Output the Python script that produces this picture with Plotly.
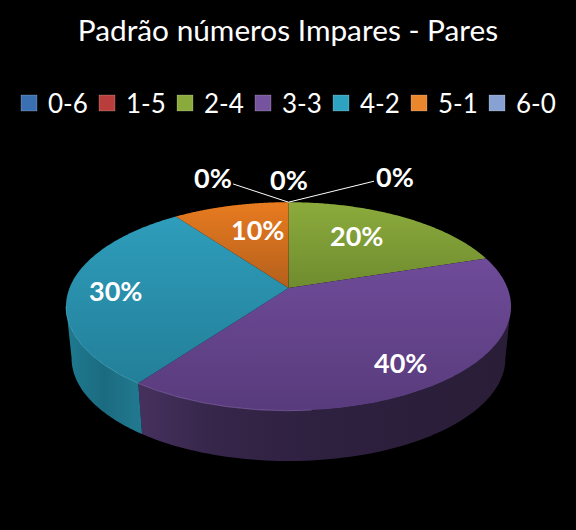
"""Padrão números Impares - Pares: tilted 3D pie drawn with filled scatter traces."""

import numpy as np
import plotly.graph_objects as go

CATEGORIES = ['0-6', '1-5', '2-4', '3-3', '4-2', '5-1', '6-0']
PERCENTS = [0, 0, 20, 40, 30, 10, 0]
TITLE = 'Padrão números Impares - Pares'

LEGEND_COLORS = ['#3a70b2', '#b93d3a', '#8aaa3c', '#75539e', '#2ea3c1', '#ea862b', '#86a1d2']
TOP_COLORS = {
    '2-4': ('#8cab3c', '#6f8c2f'),
    '3-3': ('#6f4b99', '#583b7c'),
    '4-2': ('#2e9dbb', '#237f99'),
    '5-1': ('#e87b20', '#b4601c'),
}
SIDE_COLORS = {
    '3-3': [[0, '#46315e'], [0.2, '#36264a'], [0.5, '#2e203f'], [1, '#291d37']],
    '4-2': [[0, '#1f7a90'], [0.5, '#1b6b80'], [1, '#227a90']],
}
RIM_COLORS = {'3-3': '#8a6bb0', '4-2': '#4fb5cf'}

# label placement in pixels
LABEL_POS = {'2-4': (356, 235), '3-3': (400, 362), '4-2': (115, 290), '5-1': (257, 229)}
ZERO_LABEL_OFFSET = {'0-6': (106, -26), '6-0': (-76, -25)}
LEGEND_X0, LEGEND_STEP, LEGEND_Y, LEGEND_TEXT_GAP = 29, 78, 103, 17

# projection of the pie disc onto the page
CX, CY = 288.5, 288
RX, RY, PERSP = 219, 101, 0.177
BOT_CY, BOT_RX, BOT_RY = 340, 213.5, 99.6


def project(theta, cy=CY, rx=RX, ry=RY):
    """theta in degrees, clockwise from the top of the pie."""
    t = np.radians(theta)
    d = 1 + PERSP * np.cos(t)
    return CX + rx * np.sin(t) / d, cy - ry * np.cos(t) / d


edges = np.cumsum([0] + PERCENTS) * 3.6
fig = go.Figure()

# ── Side walls ─────────────────────────────────────────
for cat, start, stop in zip(CATEGORIES, edges[:-1], edges[1:]):
    lo, hi = max(start, 100), min(stop, 260)
    if cat not in SIDE_COLORS or hi <= lo:
        continue
    th = np.linspace(lo, hi, 80)
    tx, ty = project(th)
    bx, by = project(th, BOT_CY, BOT_RX, BOT_RY)
    xs = np.concatenate([tx, bx[::-1]])
    fig.add_trace(go.Scatter(
        x=xs, y=np.concatenate([ty, by[::-1]]),
        mode='none', fill='toself', showlegend=False, hoverinfo='skip',
        fillgradient=dict(type='horizontal', colorscale=SIDE_COLORS[cat],
                          start=xs.min(), stop=xs.max()),
    ))

# ── Top slices ─────────────────────────────────────────
for cat, start, stop in zip(CATEGORIES, edges[:-1], edges[1:]):
    if stop <= start:
        continue
    th = np.linspace(start, stop, 120)
    ax, ay = project(th)
    xs = np.concatenate([[CX], ax, [CX]])
    ys = np.concatenate([[CY], ay, [CY]])
    c0, c1 = TOP_COLORS[cat]
    fig.add_trace(go.Scatter(
        x=xs, y=ys, mode='none', fill='toself', name=cat,
        showlegend=False, hoverinfo='skip',
        fillgradient=dict(type='vertical', colorscale=[[0, c0], [1, c1]],
                          start=ys.min(), stop=ys.max()),
    ))

# thin light rim along the front-left edge, it fades out before the middle
for cat, start, stop in zip(CATEGORIES, edges[:-1], edges[1:]):
    lo, hi = max(start, 175), min(stop, 260)
    if cat not in RIM_COLORS or hi <= lo:
        continue
    rx_, ry_ = project(np.linspace(lo, hi, 80))
    fig.add_trace(go.Scatter(
        x=rx_, y=ry_, mode='lines', showlegend=False, hoverinfo='skip',
        line=dict(color=RIM_COLORS[cat], width=0.6),
    ))

# ── Legend (built by hand, the plotly legend clips the last entry at this spacing) ──
annotations = []
for i, (cat, color) in enumerate(zip(CATEGORIES, LEGEND_COLORS)):
    mx = LEGEND_X0 + i * LEGEND_STEP
    fig.add_trace(go.Scatter(
        x=[mx], y=[LEGEND_Y], mode='markers', name=cat, showlegend=False, hoverinfo='name',
        marker=dict(symbol='square', size=16, color=color,
                    line=dict(color='rgba(255,255,255,0.2)', width=1)),
    ))
    annotations.append(dict(
        x=mx + LEGEND_TEXT_GAP, y=LEGEND_Y, text=cat, showarrow=False, xanchor='left',
        font=dict(family='Lato, Carlito, sans-serif', size=26, color='white'),
    ))

# ── Labels ─────────────────────────────────────────────
font = dict(family='Lato, Carlito, sans-serif', size=27, color='white', weight='bold')
for cat, val in zip(CATEGORIES, PERCENTS):
    text = f'{val}%'
    if val > 0:
        lx, ly = LABEL_POS[cat]
        annotations.append(dict(x=lx, y=ly, text=text, showarrow=False, font=font))
    elif cat in ZERO_LABEL_OFFSET:
        px, py = project(0.0)
        ox, oy = ZERO_LABEL_OFFSET[cat]
        annotations.append(dict(
            x=px, y=py, ax=ox, ay=oy, axref='pixel', ayref='pixel', text=text, font=font,
            showarrow=True, arrowhead=0, arrowwidth=1, arrowcolor='white',
        ))
    else:
        px, py = project(0.0)
        annotations.append(dict(x=px, y=py, yshift=23, text=text, showarrow=False, font=font))

fig.update_layout(
    title=dict(text=TITLE, x=0.5, xanchor='center', y=0.942, yanchor='middle',
               font=dict(family='Lato, Carlito, sans-serif', size=29.8, color='white')),
    width=576, height=530, autosize=False,
    margin=dict(l=0, r=0, t=0, b=0),
    paper_bgcolor='black', plot_bgcolor='black',
    xaxis=dict(range=[0, 576], visible=False, fixedrange=True),
    yaxis=dict(range=[530, 0], visible=False, fixedrange=True),
    showlegend=False,
    annotations=annotations,
)

fig.write_html('out.html', config={'displayModeBar': False},
               post_script="document.body.style.margin='0';")
